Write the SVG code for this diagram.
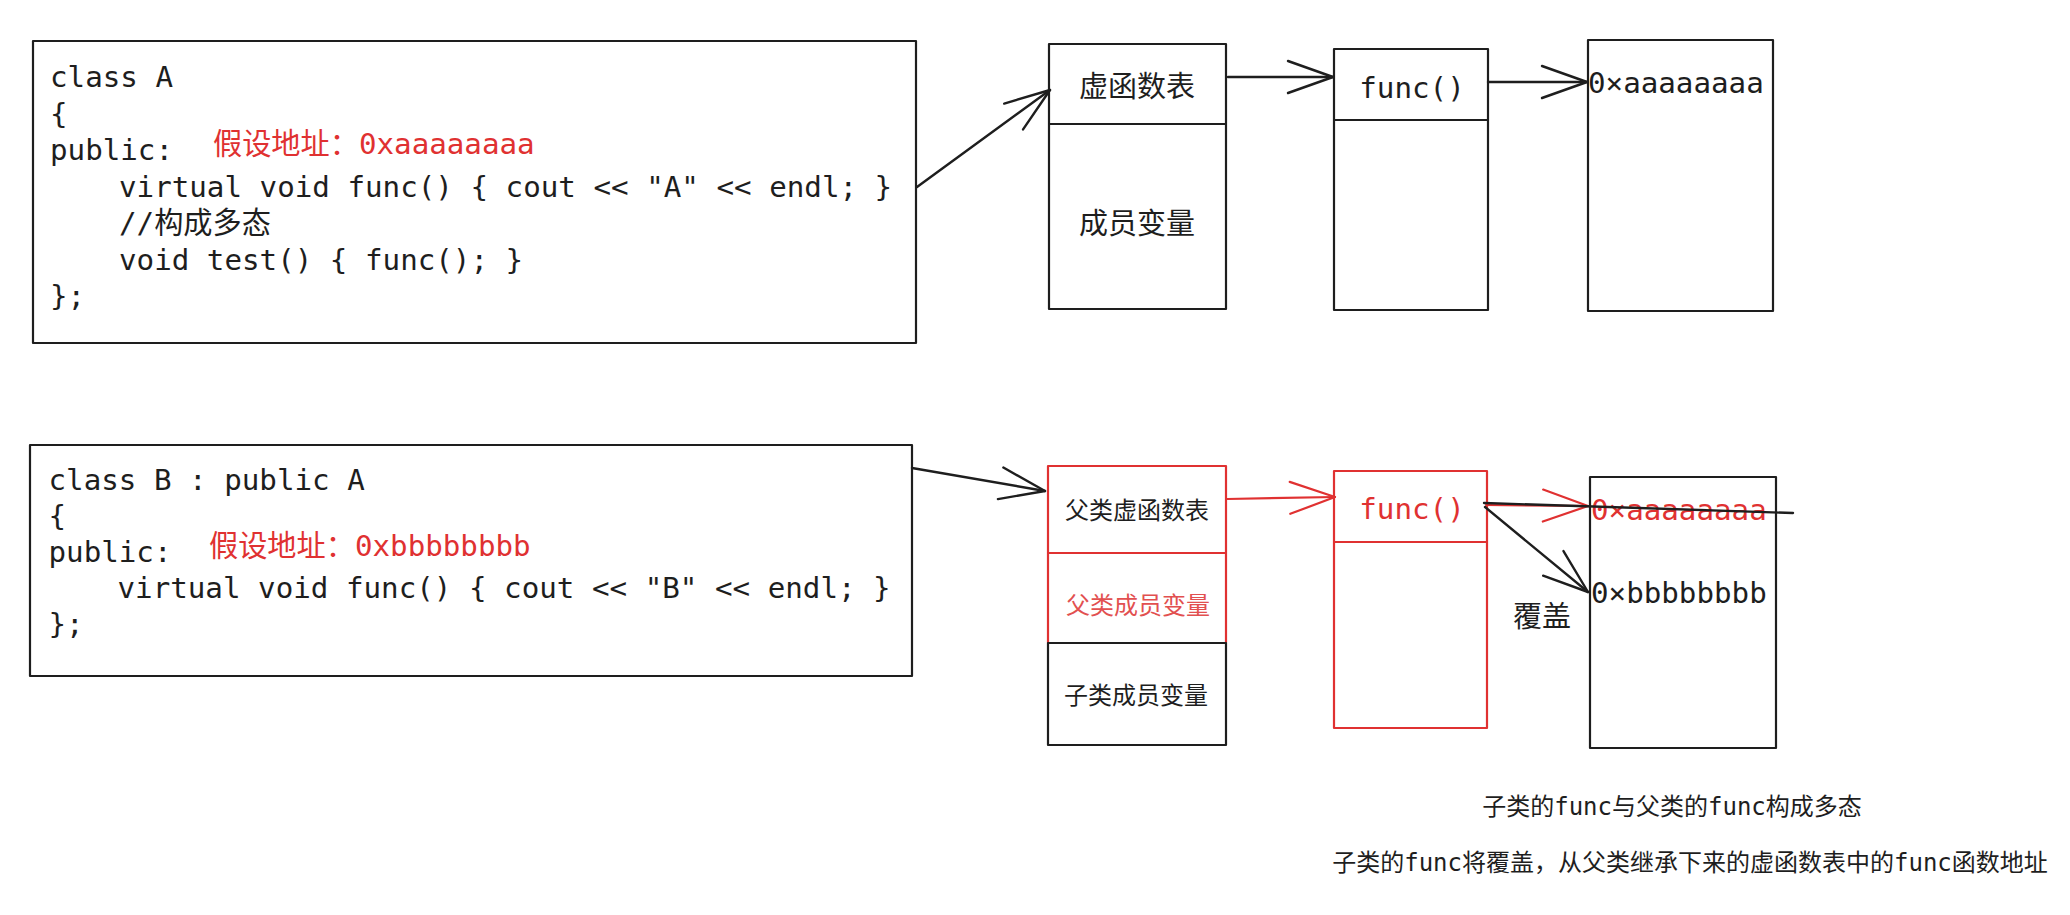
<svg xmlns="http://www.w3.org/2000/svg" width="2070" height="915" viewBox="0 0 2070 915">
  <defs>
    <style>
      .bx { fill: none; stroke: #1e1e1e; stroke-width: 2.2; stroke-linejoin: round; }
      .rbx { fill: none; stroke: #e03131; stroke-width: 2.2; stroke-linejoin: round; }
      .code { font-family: "DejaVu Sans Mono", "Noto Sans CJK SC", monospace; font-size: 29.2px; fill: #1e1e1e; }
      .red { fill: #e03131; }
      .lbl { font-family: "DejaVu Sans Mono", "Noto Sans CJK SC", sans-serif; font-size: 29px; fill: #1e1e1e; text-anchor: middle; }
      .lbl24 { font-family: "DejaVu Sans Mono", "Noto Sans CJK SC", sans-serif; font-size: 24px; fill: #1e1e1e; text-anchor: middle; }
      .note { font-family: "DejaVu Sans Mono", "Noto Sans CJK SC", sans-serif; font-size: 24px; fill: #1e1e1e; text-anchor: middle; }
      .conn { fill: none; stroke: #1e1e1e; stroke-width: 2.4; stroke-linecap: round; }
      .rconn { fill: none; stroke: #e03131; stroke-width: 2.2; stroke-linecap: round; }
    </style>
    <marker id="ahK" viewBox="-50 -20 56 40" refX="0" refY="0" markerWidth="56" markerHeight="40" markerUnits="userSpaceOnUse" orient="auto" overflow="visible">
      <path d="M-45,-16 L0,0 L-45,16" fill="none" stroke="#1e1e1e" stroke-width="2.4" stroke-linecap="round" stroke-linejoin="round"/>
    </marker>
    <marker id="ahR" viewBox="-50 -20 56 40" refX="0" refY="0" markerWidth="56" markerHeight="40" markerUnits="userSpaceOnUse" orient="auto" overflow="visible">
      <path d="M-45,-16 L0,0 L-45,16" fill="none" stroke="#e03131" stroke-width="2.2" stroke-linecap="round" stroke-linejoin="round"/>
    </marker>
  </defs>

  <rect width="2070" height="915" fill="#ffffff"/>

  <g id="classA">
    <rect class="bx" x="33" y="41" width="883" height="302"/>
    <text class="code" x="50" y="87">class A</text>
    <text class="code" x="50" y="123.5">{</text>
    <text class="code" x="50" y="160">public:</text>
    <text class="code red" x="213" y="154">假设地址：0xaaaaaaaa</text>
    <text class="code" x="119" y="196.5">virtual void func() { cout &lt;&lt; "A" &lt;&lt; endl; }</text>
    <text class="code" x="119" y="233">//构成多态</text>
    <text class="code" x="119" y="269.5">void test() { func(); }</text>
    <text class="code" x="50" y="306">};</text>
  </g>

  <g id="vtableA">
    <rect class="bx" x="1049" y="44" width="177" height="80"/>
    <rect class="bx" x="1049" y="124" width="177" height="185"/>
    <text class="lbl" x="1137" y="97">虚函数表</text>
    <text class="lbl" x="1137" y="234">成员变量</text>
  </g>

  <g id="funcA">
    <rect class="bx" x="1334" y="49" width="154" height="71"/>
    <rect class="bx" x="1334" y="120" width="154" height="190"/>
    <text class="code" x="1412" y="98" text-anchor="middle">func()</text>
  </g>

  <g id="addrA">
    <rect class="bx" x="1588" y="40" width="185" height="271"/>
    <text class="code" x="1588" y="93">0×aaaaaaaa</text>
  </g>

  <g id="classB">
    <rect class="bx" x="30" y="445" width="882" height="231"/>
    <text class="code" x="48.5" y="490">class B : public A</text>
    <text class="code" x="48.5" y="526">{</text>
    <text class="code" x="48.5" y="562">public:</text>
    <text class="code red" x="209" y="556">假设地址：0xbbbbbbbb</text>
    <text class="code" x="117.5" y="598">virtual void func() { cout &lt;&lt; "B" &lt;&lt; endl; }</text>
    <text class="code" x="48.5" y="634">};</text>
  </g>

  <g id="objB">
    <rect class="rbx" x="1048" y="466" width="178" height="87"/>
    <rect class="rbx" x="1048" y="553" width="178" height="90"/>
    <rect class="bx" x="1048" y="643" width="178" height="102"/>
    <text class="lbl24 red" x="1137" y="519">父类虚函数表</text>
    <text class="lbl24" x="1138" y="614" style="fill:#e25050">父类成员变量</text>
    <text class="lbl24" x="1136" y="704">子类成员变量</text>
  </g>

  <g id="funcB">
    <rect class="rbx" x="1334" y="471" width="153" height="71"/>
    <rect class="rbx" x="1334" y="542" width="153" height="186"/>
    <text class="code red" x="1412" y="519" text-anchor="middle">func()</text>
  </g>

  <g id="addrB">
    <rect class="bx" x="1590" y="477" width="186" height="271"/>
    <text class="code red" x="1591" y="520">0×aaaaaaaa</text>
    <text class="code" x="1591" y="603">0×bbbbbbbb</text>
  </g>

  <g id="overrideLabel">
    <text class="lbl" x="1542" y="627">覆盖</text>
  </g>

  <g id="notes">
    <text class="note" x="1672" y="815">子类的func与父类的func构成多态</text>
    <text class="note" x="1690" y="871">子类的func将覆盖，从父类继承下来的虚函数表中的func函数地址</text>
  </g>

  <g id="connectors">
    <line class="conn" x1="917" y1="187" x2="1050" y2="90" marker-end="url(#ahK)"/>
    <line class="conn" x1="1228" y1="77" x2="1333" y2="77" marker-end="url(#ahK)"/>
    <line class="conn" x1="1488" y1="82" x2="1587" y2="82" marker-end="url(#ahK)"/>
    <line class="conn" x1="912" y1="468" x2="1045" y2="491" marker-end="url(#ahK)"/>
    <line class="rconn" x1="1227" y1="499" x2="1335" y2="497" marker-end="url(#ahR)"/>
    <line class="rconn" x1="1486" y1="505" x2="1588" y2="506" marker-end="url(#ahR)"/>
    <line class="conn" x1="1484" y1="503" x2="1793" y2="513"/>
    <line class="conn" x1="1485" y1="507" x2="1588" y2="592" marker-end="url(#ahK)"/>
  </g>
</svg>
